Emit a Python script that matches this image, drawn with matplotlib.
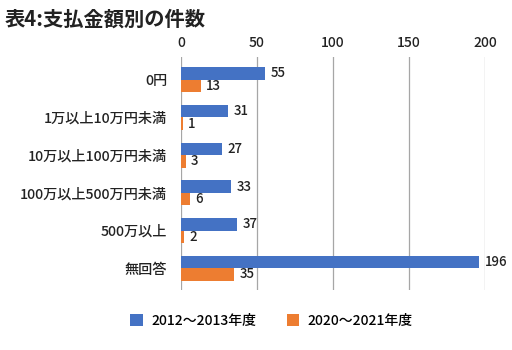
import matplotlib.pyplot as plt
import numpy as np

plt.rcParams['font.family'] = ['Noto Sans CJK JP', 'DejaVu Sans']
plt.rcParams['font.weight'] = 'medium'

categories = ["0円", "1万以上10万円未満", "10万以上100万円未満", "100万以上500万円未満", "500万以上", "無回答"]
series_names = ["2012〜2013年度", "2020〜2021年度"]
values_2012 = [55, 31, 27, 33, 37, 196]
values_2020 = [13, 1, 3, 6, 2, 35]

blue = "#4472C4"
orange = "#ED7D31"

fig = plt.figure(figsize=(5.12, 3.5), dpi=100)
ax = fig.add_axes([0.3535, 0.171, 0.594, 0.666])

y = np.arange(len(categories))
h = 0.33
b1 = ax.barh(y - h / 2, values_2012, height=h, color=blue, label=series_names[0], zorder=3)
b2 = ax.barh(y + h / 2, values_2020, height=h, color=orange, label=series_names[1], zorder=3)

# value labels right of each bar
for bars in (b1, b2):
    ax.bar_label(bars, padding=4, fontsize=9.5, color="#222222")

ax.set_xlim(0, 200)
ax.set_ylim(len(categories) - 0.42, -0.6)
ax.set_xticks([0, 50, 100, 150, 200])
ax.xaxis.tick_top()
ax.tick_params(axis="x", length=0, labelsize=10, pad=5, colors="#222222")
ax.set_yticks(y)
ax.set_yticklabels(categories)
ax.tick_params(axis="y", length=0, labelsize=10.2, pad=10, colors="#222222")
ax.grid(axis="x", color="#a6a6a6", linewidth=0.9, zorder=0)
for s in ax.spines.values():
    s.set_visible(False)

fig.text(0.01, 0.945, "表4:支払金額別の件数", fontsize=14.6, fontweight="bold", color="#222222", va="center")

fig.legend(handles=[b1, b2], loc="center", bbox_to_anchor=(0.53, 0.083), ncol=2,
           frameon=False, fontsize=10, handlelength=0.9, handleheight=0.9,
           columnspacing=2.2, handletextpad=0.6)

fig.savefig("out.png", dpi=100)
